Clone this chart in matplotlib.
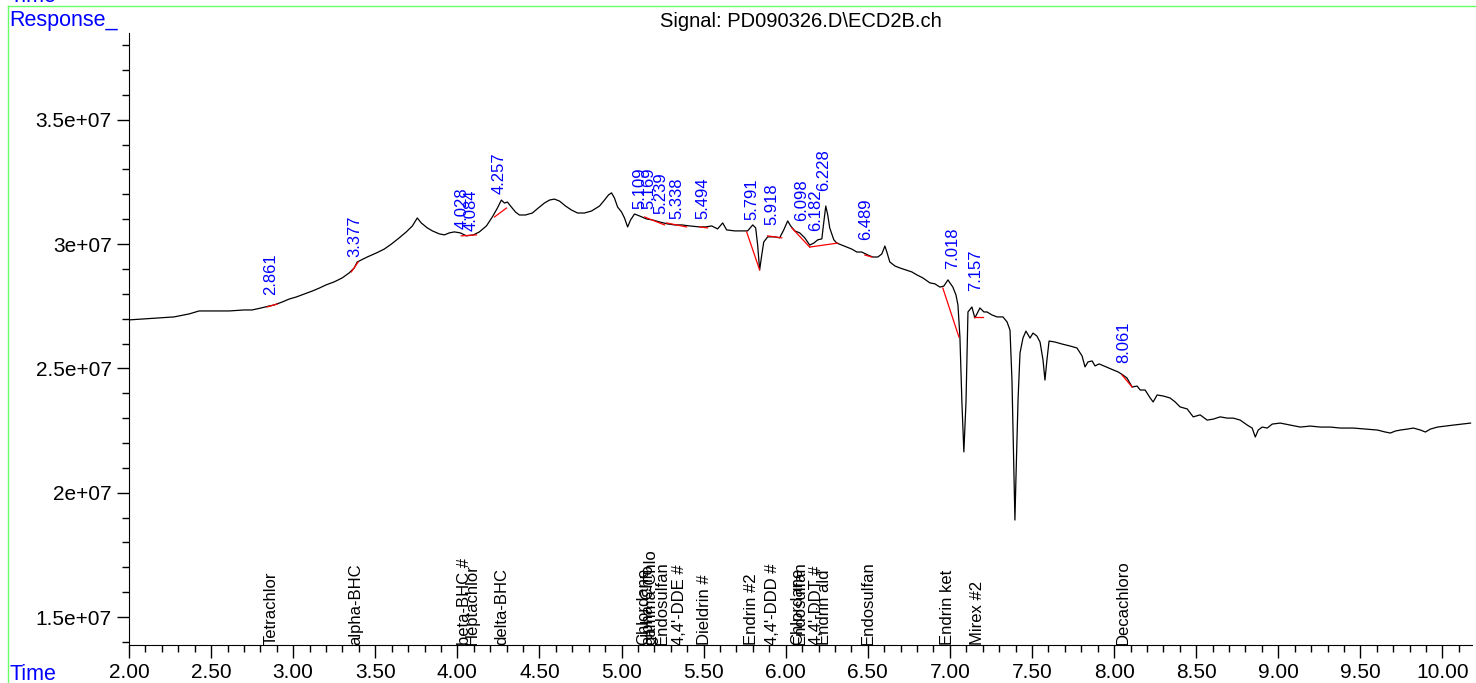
import numpy as np
import matplotlib
matplotlib.use("Agg")
import matplotlib.pyplot as plt
from matplotlib.ticker import FuncFormatter, MultipleLocator

plt.rcParams['font.family'] = ['Liberation Sans', 'DejaVu Sans']

# chromatogram trace: retention time (min) and detector response (counts)
time_min = [
    2.000, 2.091, 2.183, 2.274, 2.366, 2.427, 2.518, 2.610, 2.701, 2.750,
    2.805, 2.854, 2.884, 2.933, 2.976, 3.018, 3.067, 3.116, 3.159, 3.201,
    3.250, 3.299, 3.341, 3.372, 3.390, 3.415, 3.451, 3.506, 3.555, 3.598,
    3.646, 3.689, 3.726, 3.756, 3.780, 3.817, 3.848, 3.890, 3.921, 3.951,
    3.982, 4.018, 4.055, 4.098, 4.134, 4.177, 4.213, 4.244, 4.268, 4.287,
    4.305, 4.329, 4.354, 4.378, 4.415, 4.457, 4.500, 4.530, 4.561, 4.591,
    4.622, 4.659, 4.695, 4.732, 4.774, 4.817, 4.866, 4.896, 4.921, 4.939,
    4.957, 4.976, 5.000, 5.018, 5.037, 5.055, 5.079, 5.110, 5.152, 5.189,
    5.232, 5.280, 5.323, 5.366, 5.415, 5.476, 5.512, 5.549, 5.585, 5.616,
    5.640, 5.689, 5.732, 5.768, 5.799, 5.817, 5.829, 5.841, 5.854, 5.866,
    5.890, 5.933, 5.963, 5.988, 6.012, 6.030, 6.055, 6.085, 6.116, 6.146,
    6.171, 6.195, 6.220, 6.232, 6.244, 6.256, 6.268, 6.293, 6.311, 6.341,
    6.372, 6.402, 6.433, 6.463, 6.500, 6.530, 6.561, 6.585, 6.604, 6.616,
    6.634, 6.665, 6.695, 6.732, 6.768, 6.799, 6.835, 6.878, 6.909, 6.939,
    6.963, 6.988, 7.000, 7.018, 7.037, 7.049, 7.061, 7.073, 7.085, 7.098,
    7.110, 7.134, 7.152, 7.171, 7.183, 7.207, 7.226, 7.256, 7.287, 7.323,
    7.348, 7.366, 7.378, 7.390, 7.396, 7.402, 7.415, 7.427, 7.445, 7.463,
    7.488, 7.506, 7.530, 7.549, 7.567, 7.579, 7.591, 7.604, 7.640, 7.683,
    7.732, 7.774, 7.805, 7.823, 7.841, 7.866, 7.884, 7.909, 7.951, 7.994,
    8.024, 8.055, 8.079, 8.110, 8.140, 8.159, 8.189, 8.220, 8.238, 8.262,
    8.299, 8.341, 8.372, 8.402, 8.445, 8.482, 8.524, 8.567, 8.604, 8.646,
    8.689, 8.726, 8.768, 8.811, 8.841, 8.860, 8.878, 8.902, 8.933, 8.963,
    9.012, 9.073, 9.134, 9.195, 9.256, 9.317, 9.378, 9.457, 9.530, 9.604,
    9.652, 9.683, 9.713, 9.744, 9.787, 9.823, 9.866, 9.896, 9.927, 9.970,
    10.018, 10.067, 10.122, 10.171,
]
response_e7 = [
    2.695, 2.699, 2.703, 2.707, 2.719, 2.731, 2.731, 2.731, 2.735, 2.735,
    2.743, 2.751, 2.755, 2.767, 2.779, 2.787, 2.799, 2.811, 2.823, 2.836,
    2.848, 2.864, 2.884, 2.904, 2.928, 2.936, 2.948, 2.964, 2.980, 3.000,
    3.025, 3.049, 3.073, 3.105, 3.085, 3.065, 3.053, 3.041, 3.037, 3.045,
    3.049, 3.045, 3.033, 3.037, 3.049, 3.073, 3.109, 3.145, 3.177, 3.165,
    3.169, 3.149, 3.129, 3.117, 3.117, 3.125, 3.149, 3.165, 3.177, 3.181,
    3.173, 3.153, 3.137, 3.125, 3.125, 3.133, 3.153, 3.177, 3.198, 3.206,
    3.185, 3.149, 3.129, 3.105, 3.069, 3.097, 3.121, 3.113, 3.101, 3.097,
    3.089, 3.081, 3.077, 3.077, 3.073, 3.069, 3.069, 3.073, 3.061, 3.085,
    3.057, 3.053, 3.053, 3.053, 3.077, 3.065, 2.996, 2.896, 2.956, 3.008,
    3.029, 3.029, 3.025, 3.057, 3.093, 3.073, 3.053, 3.045, 3.025, 2.996,
    3.004, 3.017, 3.021, 3.089, 3.153, 3.117, 3.065, 3.017, 3.004, 2.996,
    2.988, 2.980, 2.968, 2.968, 2.956, 2.948, 2.948, 2.960, 2.992, 2.968,
    2.928, 2.912, 2.904, 2.896, 2.888, 2.876, 2.864, 2.844, 2.840, 2.827,
    2.831, 2.856, 2.844, 2.827, 2.795, 2.755, 2.626, 2.365, 2.164, 2.365,
    2.727, 2.747, 2.703, 2.727, 2.743, 2.727, 2.727, 2.715, 2.707, 2.707,
    2.687, 2.654, 2.453, 2.091, 1.890, 2.051, 2.373, 2.562, 2.622, 2.650,
    2.622, 2.642, 2.630, 2.606, 2.534, 2.453, 2.534, 2.610, 2.606, 2.598,
    2.590, 2.582, 2.550, 2.506, 2.526, 2.530, 2.510, 2.518, 2.506, 2.494,
    2.486, 2.473, 2.461, 2.425, 2.429, 2.413, 2.413, 2.381, 2.365, 2.393,
    2.389, 2.381, 2.365, 2.345, 2.337, 2.305, 2.313, 2.292, 2.296, 2.305,
    2.300, 2.300, 2.292, 2.272, 2.260, 2.224, 2.252, 2.264, 2.260, 2.276,
    2.280, 2.272, 2.264, 2.268, 2.264, 2.264, 2.260, 2.260, 2.256, 2.252,
    2.244, 2.240, 2.248, 2.252, 2.256, 2.260, 2.252, 2.244, 2.256, 2.264,
    2.268, 2.272, 2.276, 2.280,
]

# integrated peaks: retention time label and apex response
peak_times = [2.861, 3.377, 4.028, 4.084, 4.257, 5.109, 5.169, 5.239, 5.338,
              5.494, 5.791, 5.918, 6.098, 6.182, 6.228, 6.489, 7.018, 7.157,
              8.061]
peak_apex_e7 = [2.780, 2.930, 3.045, 3.035, 3.185, 3.125, 3.125, 3.105, 3.085,
                3.085, 3.080, 3.060, 3.075, 3.035, 3.195, 3.000, 2.885, 2.795,
                2.505]

# baselines drawn under the integrated peaks (start/end time and response)
base_t0 = [2.841, 3.354, 4.024, 4.226, 5.140, 5.274, 5.476, 5.762, 5.890,
           6.037, 6.146, 6.482, 6.957, 7.146, 8.049]
base_r0 = [2.747, 2.888, 3.033, 3.109, 3.109, 3.085, 3.069, 3.049, 3.033,
           3.065, 2.988, 2.956, 2.823, 2.707, 2.473]
base_t1 = [2.902, 3.396, 4.116, 4.299, 5.262, 5.396, 5.524, 5.841, 5.976,
           6.146, 6.317, 6.524, 7.055, 7.201, 8.110]
base_r1 = [2.759, 2.928, 3.037, 3.145, 3.077, 3.069, 3.065, 2.896, 3.025,
           2.988, 3.004, 2.948, 2.626, 2.707, 2.425]

# compound names at their expected retention times
compound_times = [2.866, 3.384, 4.043, 4.091, 4.268, 5.135, 5.160, 5.180,
                  5.250, 5.354, 5.506, 5.793, 5.921, 6.070, 6.090, 6.189,
                  6.238, 6.500, 6.988, 7.171, 8.055]
compound_names = ["Tetrachlor", "alpha-BHC", "beta-BHC #", "Heptachlor",
                  "delta-BHC", "Chlordane", "alpha-Chlo", "gamma-Chlo",
                  "Endosulfan", "4,4'-DDE #", "Dieldrin #", "Endrin #2",
                  "4,4'-DDD #", "Chlordane", "Endosulfan", "4,4'-DDT #",
                  "Endrin ald", "Endosulfan", "Endrin ket", "Mirex #2",
                  "Decachloro"]

W, H = 1476, 683
fig = plt.figure(figsize=(W / 100, H / 100), dpi=100)
ax = fig.add_axes([129 / W, 1 - 645 / H, (1472 - 129) / W, (645 - 33) / H])

scale = 1e7
ax.plot(time_min, np.array(response_e7) * scale, color='black', lw=0.9)

for t0, r0, t1, r1 in zip(base_t0, base_r0, base_t1, base_r1):
    ax.plot([t0, t1], [r0 * scale, r1 * scale], color='red', lw=0.9)

for t, r in zip(peak_times, peak_apex_e7):
    ax.annotate(f"{t:.3f}", (t, r * scale), xytext=(0, 3),
                textcoords='offset points', rotation=90, ha='center',
                va='bottom', color='#0000ff', fontsize=12)

ax.set_xlim(2.0, 10.18)
ax.set_ylim(1.3874e7, 3.849e7)
for t, name in zip(compound_times, compound_names):
    ax.text(t, 1.3874e7, name, rotation=90, ha='center', va='bottom',
            fontsize=12, color='black')

ax.xaxis.set_major_locator(MultipleLocator(0.5))
ax.xaxis.set_minor_locator(MultipleLocator(0.1))
ax.xaxis.set_major_formatter(FuncFormatter(lambda v, p: f"{v:.2f}"))
ax.yaxis.set_major_locator(MultipleLocator(0.5e7))
ax.yaxis.set_minor_locator(MultipleLocator(0.1e7))
ax.yaxis.set_major_formatter(FuncFormatter(lambda v, p: f"{v:g}"))
ax.tick_params(axis='both', which='major', labelsize=15, length=9, width=1)
ax.tick_params(axis='both', which='minor', length=5, width=1)
ax.tick_params(axis='x', pad=4)
for s in ['top', 'right']:
    ax.spines[s].set_visible(False)

# page furniture
fig.add_artist(plt.Line2D([8 / W, 8 / W], [0, 1 - 6 / H], color='#66ff66', lw=1))
fig.add_artist(plt.Line2D([8 / W, 1], [1 - 6 / H, 1 - 6 / H], color='#66ff66', lw=1))
fig.text(10 / W, 1 - 2 / H, "Time", color='#0000ff', fontsize=15.5, va='baseline')
fig.text(9 / W, 1 - 26 / H, "Response_", color='#0000ff', fontsize=15.5, va='baseline')
fig.text(9 / W, 1 - 680 / H, "Time", color='#0000ff', fontsize=15.5, va='baseline')
fig.text(801 / W, 1 - 27 / H, "Signal: PD090326.D\\ECD2B.ch", ha='center',
         va='baseline', fontsize=14.5)

fig.savefig("out.png", dpi=100)
